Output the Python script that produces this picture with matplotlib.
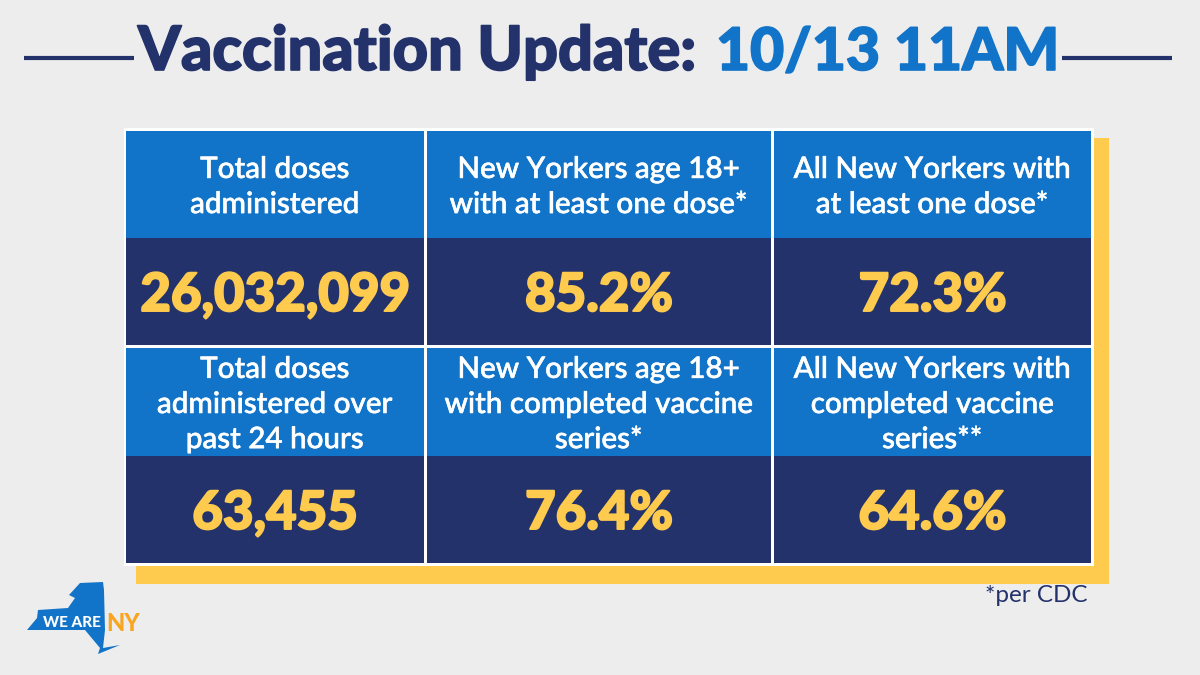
import matplotlib
matplotlib.use('Agg')
import matplotlib.pyplot as plt
import matplotlib.patheffects as pe
from matplotlib.patches import Rectangle, Polygon

plt.rcParams['font.family'] = ['Lato', 'Open Sans', 'DejaVu Sans']

# Table content
headers_top = ['Total doses\nadministered',
               'New Yorkers age 18+\nwith at least one dose*',
               'All New Yorkers with\nat least one dose*']
values_top = ['26,032,099', '85.2%', '72.3%']
headers_bottom = ['Total doses\nadministered over\npast 24 hours',
                  'New Yorkers age 18+\nwith completed vaccine\nseries*',
                  'All New Yorkers with\ncompleted vaccine\nseries**']
values_bottom = ['63,455', '76.4%', '64.6%']

title_left = 'Vaccination Update:'
title_right = '10/13 11AM'
footnote = '*per CDC'

# Colours
bg = '#ededed'
navy = '#23326b'
blue = '#1274c9'
yellow = '#fecb4e'
orange = '#f9a51f'

# Layout in pixels
col_edges = [(126, 424), (427, 771), (774, 1091)]
row_edges = [(131, 238, 345), (348, 456, 563)]


def heavy(width, color):
    return [pe.withStroke(linewidth=width, foreground=color)]


fig = plt.figure(figsize=(12, 6.75), dpi=100, facecolor=bg)
ax = fig.add_axes([0, 0, 1, 1])
ax.set_xlim(0, 1200)
ax.set_ylim(675, 0)
ax.axis('off')

# Title rules
ax.plot([24, 134], [58, 58], color=navy, lw=3, solid_capstyle='butt')
ax.plot([1062, 1172], [58, 58], color=navy, lw=3, solid_capstyle='butt')

# Title
ax.text(138, 70, title_left, color=navy, fontsize=44.1, fontweight='black',
        va='baseline', ha='left', path_effects=heavy(1.2, navy))
ax.text(716, 70, title_right, color=blue, fontsize=42.3, fontweight='black',
        va='baseline', ha='left', path_effects=heavy(1.2, blue))

# Yellow shadow, white table backing
ax.add_patch(Rectangle((136, 138), 973, 446, color=yellow, lw=0))
ax.add_patch(Rectangle((124, 128), 970, 438, color='white', lw=0))

rows = [(headers_top, values_top), (headers_bottom, values_bottom)]
for (top, mid, bot), (heads, vals) in zip(row_edges, rows):
    for (x0, x1), head, val in zip(col_edges, heads, vals):
        ax.add_patch(Rectangle((x0, top), x1 - x0, mid - top, color=blue, lw=0))
        ax.add_patch(Rectangle((x0, mid), x1 - x0, bot - mid, color=navy, lw=0))
        cx = (x0 + x1) / 2
        ax.text(cx, (top + mid) / 2 + 2, head, color='white', fontsize=21.3,
                ha='center', va='center', linespacing=1.31, fontweight='medium',
                path_effects=heavy(0.4, 'white'))
        ax.text(cx, (mid + bot) / 2 + 4, val, color=yellow, fontsize=38,
                ha='center', va='center', fontweight='black',
                path_effects=heavy(1.4, yellow))

ax.text(1036, 596, footnote, color=navy, fontsize=17.5, ha='center', va='center')

# Logo: rough outline of the state
ny_shape = [(27, 630), (37, 618), (38, 610), (68, 608), (75, 598), (69, 595),
            (80, 583), (103, 582), (104, 590), (105, 630), (103, 648),
            (120, 645), (98, 654), (100, 648), (85, 630)]
ax.add_patch(Polygon(ny_shape, closed=True, color=blue, lw=0))
ax.text(71.5, 627, 'WE ARE', color='white', fontsize=11, fontweight='black',
        ha='center', va='baseline')
ax.text(123, 631, 'NY', color=orange, fontsize=17, fontweight='black',
        ha='center', va='baseline')

fig.savefig('out.png', dpi=100, facecolor=bg)
